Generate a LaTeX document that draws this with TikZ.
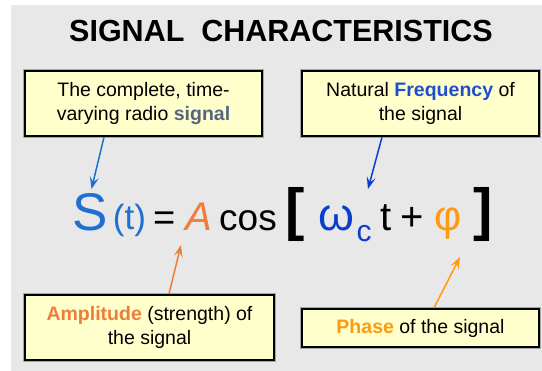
\documentclass[tikz,border=0pt]{standalone}
\usepackage{fontspec}
\setmainfont{Liberation Sans}
\usetikzlibrary{arrows.meta}
\definecolor{bg}{HTML}{E8E8E8}
\definecolor{boxfill}{HTML}{FFFFCC}
\definecolor{sblue}{HTML}{1E6FD0}
\definecolor{wblue}{HTML}{0B3ECF}
\definecolor{fblue}{HTML}{1F4FD0}
\definecolor{sigslate}{HTML}{55657F}
\definecolor{amporange}{HTML}{EE7D3B}
\definecolor{phorange}{HTML}{FF9A10}
\tikzset{
  infobox/.style={draw=black, line width=2.3pt, fill=boxfill,
    preaction={draw=black!35, line width=3.8pt}, align=center, inner sep=0pt,
    font=\fontsize{19.5}{23.5}\selectfont},
  eq/.style={inner sep=0pt, anchor=base},
  pointer/.style={line width=1.5pt, -{Stealth[length=12pt,width=9pt,inset=5pt]}},
}
\begin{document}
\begin{tikzpicture}[x=1pt,y=-1pt]
\useasboundingbox (0,0) rectangle (542,371);
\fill[bg] (11,5) rectangle (542,371);
\node[anchor=base, font=\fontsize{30.5}{30.5}\selectfont\bfseries] (title) at (281,42) {SIGNAL\ \ CHARACTERISTICS};

\node[infobox, minimum width=237pt, minimum height=65pt] (box1) at (143.5,103.5)
  {The complete, time-\\varying radio {\bfseries\color{sigslate}signal}};
\node[infobox, minimum width=237pt, minimum height=65pt] (box2) at (420.5,103.5)
  {Natural {\bfseries\color{fblue}Frequency} of\\the signal};
\node[infobox, minimum width=249pt, minimum height=65pt] (box3) at (149.5,327.5)
  {{\bfseries\color{amporange}Amplitude} (strength) of\\the signal};
\node[infobox, minimum width=237pt, minimum height=38pt] (box4) at (420.5,328)
  {{\bfseries\color{phorange}Phase} of the signal};

% formula
\node[eq, sblue, font=\fontsize{53}{53}\selectfont] (S) at (90,231) {S};
\node[eq, sblue, font=\fontsize{35}{35}\selectfont] (tt) at (129.5,230) {(t)};
\node[eq, font=\fontsize{38}{38}\selectfont] (eqs) at (164.5,231) {=};
\node[eq, amporange, font=\fontsize{40}{40}\selectfont\itshape] (A) at (199,231) {A};
\node[eq, font=\fontsize{37}{37}\selectfont] (cos) at (248,231) {cos};
\node[eq, font=\fontsize{58}{58}\selectfont\bfseries] (lb) at (295,230) {[};
\node[eq, wblue, font=\fontsize{46}{46}\selectfont] (w) at (336,231) {ω};
\node[eq, wblue, font=\fontsize{30}{30}\selectfont] (c) at (364,242) {c};
\node[eq, font=\fontsize{40}{40}\selectfont] (t2) at (386,231) {t};
\node[eq, font=\fontsize{40}{40}\selectfont] (plus) at (412.5,231) {+};
\node[eq, phorange, font=\fontsize{42}{42}\selectfont] (phi) at (448,231) {φ};
\node[eq, font=\fontsize{58}{58}\selectfont\bfseries] (rb) at (483.5,230) {]};

\coordinate (tipS) at (91.5,189);
\coordinate (tipW) at (368,189);
\coordinate (tipA) at (181,245);
\coordinate (tipP) at (460,257);
\draw[pointer, sblue] ([xshift=-39.5pt]box1.south) -- (tipS);
\draw[pointer, wblue] ([xshift=-38.5pt]box2.south) -- (tipW);
\draw[pointer, amporange] ([xshift=19.5pt]box3.north) -- (tipA);
\draw[pointer, phorange] ([xshift=13.5pt]box4.north) -- (tipP);
\end{tikzpicture}
\end{document}
